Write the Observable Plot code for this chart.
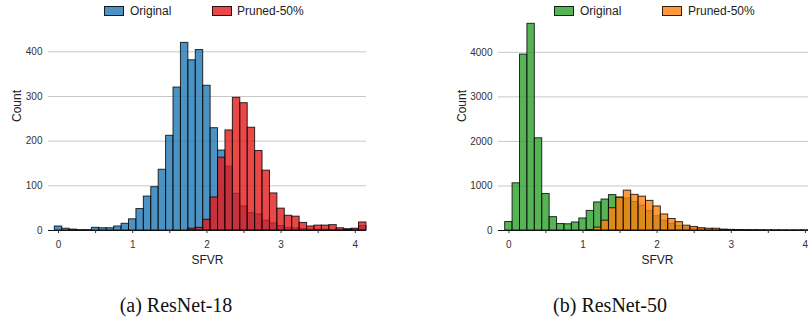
<!DOCTYPE html>
<html>
<head>
<meta charset="utf-8">
<script src="https://cdn.jsdelivr.net/npm/d3@7"></script>
<script src="https://cdn.jsdelivr.net/npm/@observablehq/plot@0.6"></script>
<style>
  html, body { margin: 0; padding: 0; background: #fff; }
  #wrap { position: relative; width: 808px; height: 331px; overflow: hidden; background: #fff;
          font-family: "Liberation Sans", Arial, sans-serif; }
  .panel { position: absolute; top: 0; }
  .panel svg { max-width: none !important; }
  .leg { position: absolute; top: 4px; height: 14px; display: flex; align-items: center; font-size: 12px; color: #222; }
  .sw { position: absolute; width: 18px; height: 8px; top: 2px; border: 1px solid rgba(0,0,0,0.8); }
  .lt { position: absolute; top: 0; line-height: 14px; white-space: nowrap; }
  .cap { position: absolute; top: 292px; font-family: "Liberation Serif", "DejaVu Serif", serif; font-size: 20px;
         color: #111; transform: translateX(-50%); white-space: nowrap; line-height: 26px; }
</style>
</head>
<body>
<div id="wrap">
  <div class="panel" id="left" style="left:0px;width:404px"></div>
  <div class="panel" id="right" style="left:404px;width:422px"></div>
  <div class="leg" style="left:0;width:808px">
    <div class="sw" style="left:104px;background:rgba(31,119,180,0.8)"></div><div class="lt" style="left:130px">Original</div>
    <div class="sw" style="left:212px;background:rgba(228,26,28,0.8)"></div><div class="lt" style="left:237px">Pruned-50%</div>
    <div class="sw" style="left:554px;background:rgba(44,160,44,0.8)"></div><div class="lt" style="left:580px">Original</div>
    <div class="sw" style="left:662px;background:rgba(255,127,14,0.8)"></div><div class="lt" style="left:688px">Pruned-50%</div>
  </div>
  <div class="cap" style="left:176px">(a) ResNet-18</div>
  <div class="cap" style="left:610px">(b) ResNet-50</div>
</div>
<script>
// Bin centres (bin width 0.1)
const bins = [0.0,0.1,0.2,0.3,0.4,0.5,0.6,0.7,0.8,0.9,1.0,1.1,1.2,1.3,1.4,1.5,1.6,1.7,1.8,1.9,2.0,
              2.1,2.2,2.3,2.4,2.5,2.6,2.7,2.8,2.9,3.0,3.1,3.2,3.3,3.4,3.5,3.6,3.7,3.8,3.9,4.0,4.1];
const binWidth = 0.1;

// ResNet-18
const r18Original = [9,4,2,1,1,6,5,5,9,15,25,48,76,97,136,212,320,420,381,404,324,
                     229,179,143,82,54,39,36,22,16,10,6,5,3,2,2,2,1,1,3,2,10];
const r18Pruned   = [0,0,0,0,0,0,0,0,0,0,0,0,0,0,0,0,0,0,4,6,24,
                     74,163,224,297,285,230,178,134,83,49,33,31,17,9,11,11,12,5,1,4,18];
// ResNet-50
const r50Original = [190,1060,3950,4640,2070,820,300,145,140,180,270,440,630,695,795,740,720,640,560,440,320,
                     220,150,100,65,45,30,22,16,12,9,7,5,4,3,2,2,1,1,1,1,0];
const r50Pruned   = [0,0,0,0,0,0,0,0,0,0,0,10,65,220,500,735,895,800,760,665,540,
                     360,258,188,108,80,52,40,40,20,14,10,8,6,4,3,2,2,1,1,1,0];

const seriesNames = ["Original", "Pruned-50%"];
const xTicks = [0,0.5,1,1.5,2,2.5,3,3.5,4];
const yTicks18 = [0,100,200,300,400];
const yTicks50 = [0,1000,2000,3000,4000];

function table(counts) {
  return bins.map((b, i) => ({bin: b, count: counts[i]})).filter(d => d.count > 0);
}

function hist(opts) {
  const {orig, pruned, c1, c2, yTicks, yMax, width, ml, mr, mt, xDomain, countDx, countDy} = opts;
  const bar = (data, color) => Plot.rectY(data, {
    x1: d => d.bin - binWidth / 2, x2: d => d.bin + binWidth / 2, y: "count",
    fill: color, fillOpacity: 0.8, stroke: "#000", strokeOpacity: 0.8, strokeWidth: 1
  });
  return Plot.plot({
    width, height: 280,
    marginLeft: ml, marginRight: mr, marginTop: mt, marginBottom: 50,
    style: {fontFamily: "Liberation Sans, Arial, sans-serif", fontSize: "10px", color: "#333", background: "transparent", overflow: "visible"},
    x: {domain: xDomain},
    y: {domain: [0, yMax]},
    marks: [
      Plot.gridY(yTicks, {stroke: "#c8c8c8", strokeOpacity: 1, strokeWidth: 1}),
      Plot.axisY(yTicks, {tickSize: 0, tickPadding: 6, label: null, fontSize: 10, tickFormat: d => String(d)}),
      bar(table(orig), c1),
      bar(table(pruned), c2),
      Plot.ruleY([0], {stroke: "#111", strokeWidth: 1.2}),
      Plot.axisX(xTicks, {tickSize: 3, tickPadding: 7, label: null, fontSize: 10,
        tickFormat: d => Number.isInteger(d) ? String(d) : ""}),
      Plot.text(["SFVR"], {frameAnchor: "bottom", lineAnchor: "middle", dy: 30, fontSize: 12, fill: "#222"}),
      Plot.text(["Count"], {frameAnchor: "left", lineAnchor: "middle", rotate: -90, dx: countDx, dy: countDy, fontSize: 12, fill: "#222"})
    ]
  });
}

document.getElementById("left").append(hist({
  orig: r18Original, pruned: r18Pruned, c1: "#1f77b4", c2: "#e41a1c",
  yTicks: yTicks18, yMax: 441, width: 404, ml: 48, mr: 38, mt: 33,
  xDomain: [-0.135, 4.151], countDx: -31, countDy: -10
}));
document.getElementById("right").append(hist({
  orig: r50Original, pruned: r50Pruned, c1: "#2ca02c", c2: "#ff7f0e",
  yTicks: yTicks50, yMax: 4872, width: 422, ml: 94, mr: 10, mt: 13,
  xDomain: [-0.14, 4.15], countDx: -36, countDy: 0
}));
</script>
</body>
</html>
